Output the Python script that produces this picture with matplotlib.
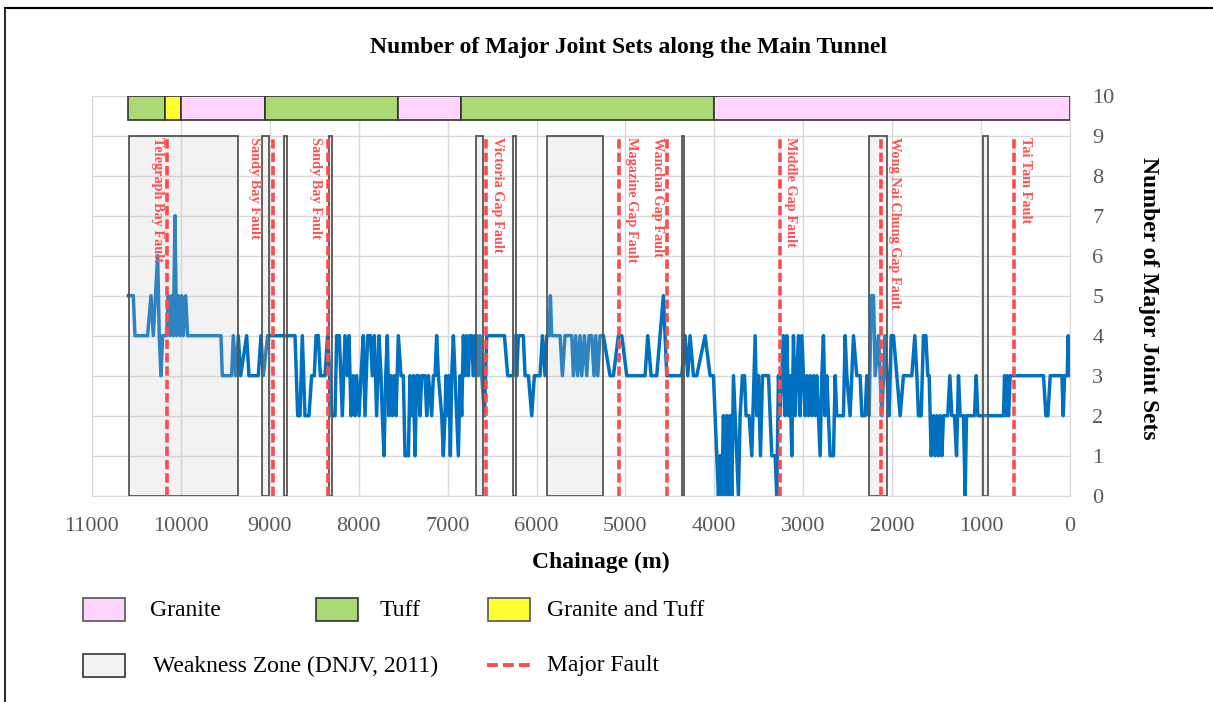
import matplotlib.pyplot as plt
from matplotlib.patches import Rectangle
from matplotlib.lines import Line2D

plt.rcParams['font.family'] = ['Liberation Serif', 'DejaVu Serif']

# chainage (m) and number of major joint sets
chainage = [10591, 10535, 10516, 10374, 10336, 10310, 10261, 10243, 10224, 10205,
            10160, 10141, 10123, 10104, 10085, 10066, 10048, 10029, 10010, 9991,
            9973, 9946, 9924, 9549, 9534, 9429, 9410, 9384, 9354, 9328,
            9260, 9234, 9129, 9099, 9073, 9024, 8716, 8686, 8660, 8634,
            8604, 8559, 8529, 8499, 8480, 8454, 8431, 8379, 8349, 8323,
            8304, 8266, 8248, 8218, 8184, 8154, 8128, 8109, 8086, 8060,
            8041, 8023, 7996, 7974, 7948, 7929, 7899, 7869, 7846, 7824,
            7798, 7771, 7749, 7734, 7715, 7696, 7678, 7659, 7636, 7621,
            7599, 7580, 7554, 7524, 7498, 7479, 7441, 7423, 7404, 7385,
            7366, 7348, 7329, 7310, 7291, 7254, 7235, 7216, 7179, 7160,
            7141, 7123, 7104, 7066, 7048, 7029, 7018, 6999, 6984, 6969,
            6954, 6935, 6916, 6898, 6879, 6860, 6841, 6823, 6804, 6785,
            6766, 6748, 6729, 6710, 6691, 6673, 6654, 6635, 6616, 6586,
            6560, 6361, 6324, 6260, 6241, 6223, 6204, 6148, 6129, 6091,
            6054, 6024, 5960, 5934, 5904, 5885, 5859, 5844, 5829, 5735,
            5709, 5679, 5604, 5585, 5559, 5537, 5510, 5491, 5461, 5435,
            5409, 5379, 5353, 5334, 5311, 5285, 5248, 5173, 5135, 5079,
            5041, 4985, 4779, 4749, 4711, 4648, 4610, 4573, 4554, 4535,
            4366, 4329, 4299, 4273, 4235, 4198, 4104, 4048, 4010, 3973,
            3954, 3935, 3916, 3898, 3879, 3860, 3841, 3823, 3804, 3785,
            3766, 3748, 3729, 3710, 3684, 3661, 3643, 3609, 3579, 3541,
            3523, 3504, 3481, 3459, 3429, 3391, 3373, 3354, 3316, 3298,
            3279, 3260, 3241, 3223, 3204, 3185, 3166, 3148, 3129, 3110,
            3091, 3073, 3054, 3035, 3016, 2998, 2979, 2960, 2941, 2923,
            2904, 2885, 2866, 2848, 2829, 2810, 2791, 2773, 2754, 2735,
            2716, 2698, 2660, 2641, 2623, 2548, 2529, 2510, 2473, 2435,
            2398, 2360, 2341, 2304, 2285, 2259, 2236, 2210, 2191, 2154,
            2135, 2116, 2098, 2079, 2060, 2034, 2011, 1985, 1948, 1910,
            1873, 1779, 1745, 1722, 1704, 1674, 1648, 1621, 1599, 1584,
            1561, 1535, 1516, 1498, 1479, 1460, 1441, 1423, 1374, 1351,
            1329, 1299, 1276, 1254, 1235, 1198, 1179, 1164, 1074, 1055,
            1036, 748, 736, 721, 706, 691, 673, 298, 271, 249,
            222, 91, 76, 61, 31, 20, 9, 0]
joint_sets = [5, 5, 4, 4, 5, 4, 6, 4, 3, 4,
              4, 5, 4, 5, 4, 7, 4, 5, 4, 5,
              4, 5, 4, 4, 3, 3, 4, 3, 4, 3,
              4, 3, 3, 4, 3, 4, 4, 2, 2, 4,
              2, 2, 3, 3, 4, 4, 3, 3, 4, 3,
              2, 2, 4, 4, 2, 4, 3, 4, 2, 3,
              2, 3, 2, 3, 4, 2, 4, 4, 3, 4,
              2, 4, 3, 2, 1, 3, 4, 2, 3, 2,
              3, 2, 4, 3, 3, 1, 1, 3, 2, 3,
              1, 3, 3, 2, 3, 3, 2, 3, 2, 3,
              3, 4, 3, 2, 1, 2, 3, 2, 3, 1,
              3, 4, 3, 2, 1, 3, 2, 4, 3, 4,
              3, 4, 4, 3, 4, 4, 3, 4, 3, 2,
              4, 4, 3, 3, 4, 3, 4, 4, 3, 3,
              2, 3, 3, 4, 3, 4, 4, 5, 4, 4,
              3, 4, 4, 3, 4, 3, 4, 3, 4, 3,
              4, 4, 3, 4, 3, 4, 4, 3, 3, 4,
              4, 3, 3, 4, 3, 3, 4, 5, 4, 3,
              3, 4, 3, 4, 3, 3, 4, 3, 3, 1,
              0, 1, 0, 2, 0, 2, 0, 2, 0, 3,
              2, 1, 0, 2, 3, 3, 2, 2, 1, 4,
              2, 3, 1, 3, 3, 3, 2, 1, 1, 0,
              3, 2, 3, 4, 2, 4, 2, 3, 1, 4,
              2, 3, 4, 2, 4, 3, 2, 3, 2, 3,
              2, 3, 2, 3, 2, 1, 3, 4, 2, 3,
              2, 1, 1, 3, 2, 2, 4, 3, 2, 4,
              3, 3, 2, 2, 3, 2, 5, 5, 3, 4,
              3, 2, 3, 4, 3, 2, 4, 4, 3, 2,
              3, 3, 4, 3, 2, 2, 4, 4, 3, 3,
              1, 2, 1, 2, 1, 2, 1, 2, 2, 3,
              2, 2, 1, 3, 2, 2, 0, 2, 2, 3,
              2, 2, 3, 2, 3, 2, 3, 3, 2, 2,
              3, 3, 2, 3, 3, 4, 3, 3]

# rock type bar along the top
rock_from = [10590, 10180, 10000, 9050, 7555, 6850, 4000]
rock_to = [10180, 10000, 9050, 7555, 6850, 4000, 0]
rock_type = ["Tuff", "Granite and Tuff", "Granite", "Tuff", "Granite", "Tuff", "Granite"]
rock_colors = {"Granite": "#ffd5ff", "Tuff": "#a9d874", "Granite and Tuff": "#ffff33"}

# weakness zones (DNJV, 2011)
weak_from = [10582, 9085, 8843, 8330, 6680, 6260, 5885, 4366, 2255, 980]
weak_to = [9355, 9008, 8803, 8304, 6598, 6230, 5248, 4337, 2060, 924]

# major faults
fault_ch = [10153, 8960, 8348, 6568, 5071, 4535, 3260, 2124, 635]
fault_names = ["Telegraph Bay Fault", "Sandy Bay Fault", "Sandy Bay Fault",
               "Victoria Gap Fault", "Magazine Gap Fault", "Wanchai Gap Fault",
               "Middle Gap Fault", "Wong Nai Chung Gap Fault", "Tai Tam Fault"]
label_dx = [-10, -19, -12, 11.5, 12, -9, 10, 13.5, 11.7]   # pixels

fig = plt.figure(figsize=(12.13, 7.02), dpi=100)
ax = fig.add_axes([0.0758, 0.2939, 0.8063, 0.5698])

# data line
ax.plot(chainage, joint_sets, color="#0070c0", lw=2.5, zorder=2, solid_joinstyle="round")

# weakness zones drawn over the line (semi transparent)
for a, b in zip(weak_from, weak_to):
    ax.bar(b, 9, width=a - b, bottom=0, align="edge", facecolor=(0.78, 0.78, 0.78, 0.23),
           edgecolor="#555555", lw=1.3, zorder=3)

# rock bar
for a, b, t in zip(rock_from, rock_to, rock_type):
    ax.bar(b, 0.6, width=a - b, bottom=9.4, align="edge", color=rock_colors[t],
           edgecolor="#333333", lw=1.2, zorder=3)

# faults
ax.vlines(fault_ch, 0, 9, colors="#ff4b4b", linestyles=(0, (2.6, 1.1)), lw=2.6, zorder=4)
for c, name, dx in zip(fault_ch, fault_names, label_dx):
    ax.annotate(name, xy=(c, 9), xytext=(dx * 0.72, -1), textcoords="offset points",
                rotation=270, ha="center", va="top", color="#ff5050", fontsize=10.3,
                fontweight="bold", zorder=5)

ax.set_xlim(11000, 0)
ax.set_ylim(0, 10)
ax.set_xticks(range(0, 11001, 1000))
ax.set_yticks(range(0, 11))
ax.yaxis.tick_right()
ax.tick_params(axis="x", length=0, pad=15, labelsize=16, labelcolor="#595959")
ax.tick_params(axis="y", length=0, pad=16, labelsize=16, labelcolor="#595959")
ax.grid(color="#d9d9d9", lw=1)
ax.set_axisbelow(True)
for s in ax.spines.values():
    s.set_color("#d9d9d9")

fig.text(628 / 1213, 1 - 48 / 702, "Number of Major Joint Sets along the Main Tunnel",
         ha="center", va="center", fontsize=17, fontweight="bold")
fig.text(601 / 1213, 1 - 562 / 702, "Chainage (m)", ha="center", va="center",
         fontsize=17, fontweight="bold")
fig.text(1148 / 1213, 1 - 298 / 702, "Number of Major Joint Sets", ha="center", va="center",
         rotation=270, fontsize=17, fontweight="bold")

# legend, drawn by hand to follow the original layout
W, H = 1213, 702


def swatch(x, ytop, color, edge):
    fig.add_artist(Rectangle((x / W, 1 - (ytop + 23) / H), 42 / W, 23 / H,
                             transform=fig.transFigure, facecolor=color, edgecolor=edge, lw=1.2))


swatch(83, 598, rock_colors["Granite"], "#555555")
swatch(316, 598, rock_colors["Tuff"], "#333333")
swatch(488, 598, rock_colors["Granite and Tuff"], "#555555")
swatch(83, 654, (0.95, 0.95, 0.95), "#333333")
fig.add_artist(Line2D([487 / W, 530 / W], [1 - 665 / H] * 2, transform=fig.transFigure,
                      color="#ff4b4b", lw=2.8, linestyle=(0, (2.8, 1.3))))
for x, y, s in [(150, 610, "Granite"), (380, 610, "Tuff"), (547, 610, "Granite and Tuff"),
                (153, 666, "Weakness Zone (DNJV, 2011)"), (547, 666, "Major Fault")]:
    fig.text(x / W, 1 - y / H, s, ha="left", va="center", fontsize=17)

# outer frame (left and top edges visible)
fig.add_artist(Line2D([5 / W, 5 / W], [-0.1, 1 - 8 / H], transform=fig.transFigure,
                      color="black", lw=1.2))
fig.add_artist(Line2D([5 / W, 1.1], [1 - 8 / H] * 2, transform=fig.transFigure,
                      color="black", lw=1.5))

fig.savefig("out.png", dpi=100)
